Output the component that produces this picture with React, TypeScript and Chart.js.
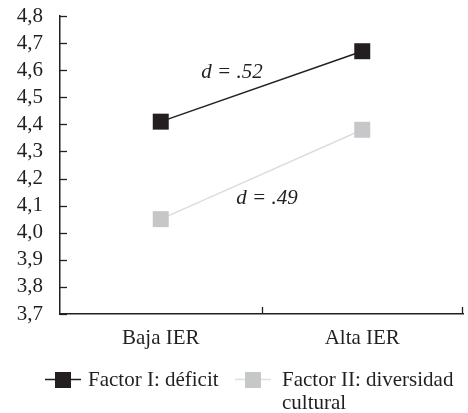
import React, { useEffect, useRef } from "react";
import { Chart, registerables } from "chart.js";

Chart.register(...registerables);

const categories = ["Baja IER", "Alta IER"];
const factor1Label = "Factor I: déficit";
const factor2Label = ["Factor II: diversidad", "cultural"];
const factor1 = [4.41, 4.67];
const factor2 = [4.05, 4.38];
const yMin = 3.7;
const yMax = 4.8;
const yStep = 0.1;
const annotationTexts = ["d = .52", "d = .49"];
const annotationX = [0.354, 0.527];
const annotationY = [4.593, 4.128];

const FONT = "'Liberation Serif', 'Times New Roman', serif";
const FS = 21;
const INK = "#231f20";
const GRAY = "#c6c7c8";
const GRAY_LINE = "#dddddd";

const inwardTicks = {
  id: "inwardTicks",
  afterDraw(chart: any) {
    const { ctx, chartArea, scales } = chart;
    const y = scales.y;
    const x = scales.x;
    ctx.save();
    ctx.strokeStyle = INK;
    ctx.lineWidth = 1.3;
    y.ticks.forEach((t: any) => {
      const py = Math.round(y.getPixelForValue(t.value)) + 0.5;
      ctx.beginPath();
      ctx.moveTo(chartArea.left, py);
      ctx.lineTo(chartArea.left + 7, py);
      ctx.stroke();
    });
    const n = categories.length;
    for (let i = 1; i <= n; i++) {
      const px = x.getPixelForValue(i - 0.5);
      const xx = Math.min(Math.round(px) + 0.5, chartArea.right - 0.5);
      ctx.beginPath();
      ctx.moveTo(xx, chartArea.bottom);
      ctx.lineTo(xx, chartArea.bottom - 7);
      ctx.stroke();
    }
    ctx.restore();
  },
};

const annotationsPlugin = {
  id: "annotationsText",
  afterDatasetsDraw(chart: any) {
    const { ctx, scales } = chart;
    ctx.save();
    ctx.font = `italic ${FS}px ${FONT}`;
    ctx.fillStyle = INK;
    ctx.textAlign = "center";
    ctx.textBaseline = "middle";
    annotationTexts.forEach((t, i) => {
      ctx.fillText(
        t,
        scales.x.getPixelForValue(annotationX[i]),
        scales.y.getPixelForValue(annotationY[i])
      );
    });
    ctx.restore();
  },
};

const customLegend = {
  id: "customLegend",
  afterDraw(chart: any) {
    const { ctx } = chart;
    const items = [
      { lines: [factor1Label], color: INK, line: INK, lx: 45, sx: 63, tx: 88 },
      { lines: factor2Label, color: GRAY, line: GRAY_LINE, lx: 235, sx: 253, tx: 282 },
    ];
    const rowY = 379;
    ctx.save();
    items.forEach((it) => {
      ctx.strokeStyle = it.line;
      ctx.lineWidth = 1.5;
      ctx.beginPath();
      ctx.moveTo(it.lx, rowY + 0.5);
      ctx.lineTo(it.lx + 36, rowY + 0.5);
      ctx.stroke();
      ctx.fillStyle = it.color;
      ctx.fillRect(it.sx - 8, rowY - 7, 16, 16);
      ctx.fillStyle = INK;
      ctx.font = `${FS}px ${FONT}`;
      ctx.textAlign = "left";
      ctx.textBaseline = "middle";
      it.lines.forEach((l, j) => {
        ctx.fillText(l, it.tx, rowY + 1 + j * 23);
      });
    });
    ctx.restore();
  },
};

export default function App() {
  const ref = useRef<HTMLCanvasElement | null>(null);

  useEffect(() => {
    if (!ref.current) return;
    const chart = new Chart(ref.current, {
      type: "line",
      data: {
        labels: categories,
        datasets: [
          {
            label: factor1Label,
            data: factor1,
            borderColor: INK,
            backgroundColor: INK,
            borderWidth: 1.5,
            pointStyle: "rect",
            pointRadius: 11.3,
            pointHoverRadius: 11.3,
            pointBorderWidth: 0,
            pointBackgroundColor: INK,
            clip: false,
          },
          {
            label: factor2Label.join(" "),
            data: factor2,
            borderColor: GRAY_LINE,
            backgroundColor: GRAY,
            borderWidth: 1.5,
            pointStyle: "rect",
            pointRadius: 11.3,
            pointHoverRadius: 11.3,
            pointBorderWidth: 0,
            pointBackgroundColor: GRAY,
            clip: false,
          },
        ],
      },
      options: {
        animation: false,
        responsive: true,
        maintainAspectRatio: false,
        layout: { autoPadding: false, padding: { top: 16, right: 5, left: 0, bottom: 59 } },
        plugins: {
          legend: { display: false },
          tooltip: { enabled: false },
        },
        scales: {
          x: {
            offset: true,
            grid: { display: false, drawTicks: false },
            border: { display: true, color: INK, width: 1.5 },
            ticks: {
              color: INK,
              font: { family: FONT, size: FS },
              padding: 12,
            },
            afterFit(axis: any) {
              axis.height = 40;
              axis.paddingLeft = 0;
              axis.paddingRight = 0;
            },
          },
          y: {
            min: yMin,
            max: yMax,
            grid: { display: false, drawTicks: false },
            border: { display: true, color: INK, width: 1.5 },
            ticks: {
              stepSize: yStep,
              autoSkip: false,
              color: INK,
              font: { family: FONT, size: FS },
              padding: 17,
              callback: (v: any) => Number(v).toFixed(1).replace(".", ","),
            },
            afterFit(axis: any) {
              axis.width = 60;
              axis.paddingTop = 0;
              axis.paddingBottom = 0;
            },
          },
        },
      },
      plugins: [inwardTicks, annotationsPlugin, customLegend],
    });
    return () => chart.destroy();
  }, []);

  return (
    <div style={{ position: "absolute", left: 0, top: 0, width: 468, height: 413 }}>
      <canvas ref={ref} />
    </div>
  );
}
